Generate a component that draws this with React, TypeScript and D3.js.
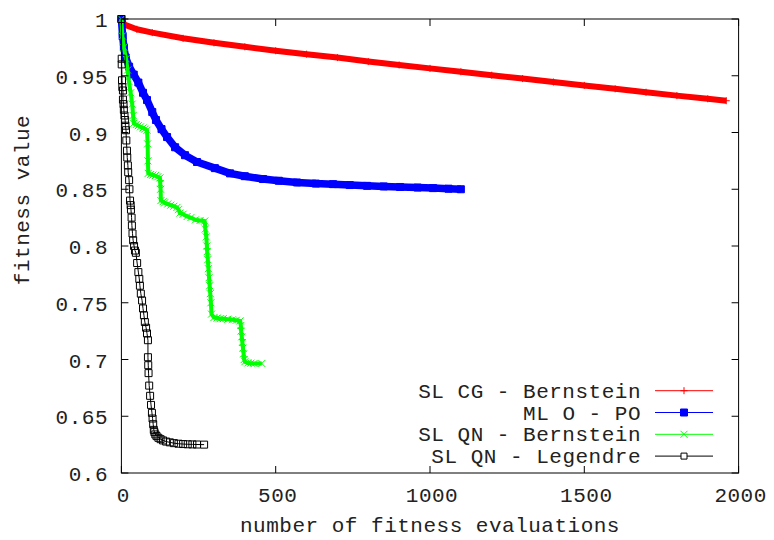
import React from 'react';
import * as d3 from 'd3';

const W = 774;
const H = 540;

const xTicks = [0, 500, 1000, 1500, 2000];
const yTicks = [0.6, 0.65, 0.7, 0.75, 0.8, 0.85, 0.9, 0.95, 1];
const yTickLabels = ['0.6', '0.65', '0.7', '0.75', '0.8', '0.85', '0.9', '0.95', '1'];

const seriesNames = ['SL CG - Bernstein', 'ML O - PO', 'SL QN - Bernstein', 'SL QN - Legendre'];

// SL CG - Bernstein (red)
const redX = [0, 10, 50, 100, 200, 300, 400, 500, 600, 700, 800, 900, 1000, 1100, 1200, 1300, 1400, 1500, 1600, 1700, 1800, 1900, 1960];
const redY = [1, 0.995, 0.991, 0.988, 0.983, 0.979, 0.9755, 0.972, 0.969, 0.966, 0.9625, 0.9595, 0.9565, 0.9535, 0.9505, 0.9475, 0.9445, 0.9415, 0.9385, 0.9355, 0.9325, 0.9297, 0.928];

// ML O - PO (blue)
const blueX = [0, 4, 8, 14, 25, 40, 55, 70, 83, 100, 112, 130, 148, 174, 206, 245, 303, 352, 400, 459, 510, 569, 630, 686, 740, 796, 850, 903, 960, 1010, 1060, 1100];
const blueY = [1, 0.985, 0.975, 0.966, 0.958, 0.951, 0.944, 0.935, 0.9286, 0.918, 0.911, 0.903, 0.896, 0.887, 0.88, 0.874, 0.8686, 0.864, 0.8615, 0.859, 0.8575, 0.856, 0.855, 0.8545, 0.8537, 0.853, 0.8525, 0.852, 0.8515, 0.851, 0.8505, 0.85];

// SL QN - Bernstein (green)
const greenX = [0, 3, 8, 15, 20, 24, 30, 35, 38, 40, 48, 55, 62, 70, 77, 83, 85, 86, 87, 95, 102, 110, 118, 125, 126, 127, 128, 135, 140, 150, 160, 170, 180, 185, 190, 200, 213, 225, 240, 255, 270, 272, 275, 277, 278, 280, 282, 284, 286, 288, 290, 292, 300, 310, 320, 330, 345, 360, 372, 385, 387, 388, 390, 392, 394, 396, 398, 400, 410, 420, 430, 455];
const greenY = [1, 0.985, 0.975, 0.965, 0.955, 0.945, 0.935, 0.925, 0.915, 0.908, 0.907, 0.906, 0.905, 0.904, 0.903, 0.902, 0.89, 0.875, 0.864, 0.863, 0.8625, 0.862, 0.861, 0.86, 0.855, 0.85, 0.84, 0.839, 0.838, 0.837, 0.836, 0.835, 0.834, 0.832, 0.829, 0.828, 0.826, 0.825, 0.823, 0.8225, 0.822, 0.815, 0.808, 0.8, 0.795, 0.788, 0.78, 0.772, 0.765, 0.758, 0.75, 0.74, 0.737, 0.7365, 0.736, 0.736, 0.7355, 0.735, 0.7345, 0.734, 0.73, 0.725, 0.72, 0.715, 0.71, 0.705, 0.7, 0.698, 0.697, 0.6968, 0.6965, 0.6965];

// SL QN - Legendre (black)
const blackX = [0, 1, 1, 2, 3, 5, 5, 7, 8, 10, 12, 13, 15, 16, 18, 19, 21, 22, 25, 26, 28, 30, 31, 33, 34, 36, 38, 41, 44, 47, 51, 55, 58, 60, 63, 67, 70, 73, 76, 80, 83, 86, 86, 87, 88, 90, 93, 96, 99, 101, 103, 105, 107, 110, 114, 120, 127, 135, 145, 157, 170, 185, 200, 215, 230, 245, 268];
const blackY = [1, 0.965, 0.96, 0.946, 0.94, 0.937, 0.929, 0.925, 0.92, 0.915, 0.911, 0.906, 0.902, 0.893, 0.884, 0.878, 0.871, 0.865, 0.858, 0.85, 0.84, 0.836, 0.832, 0.825, 0.818, 0.811, 0.805, 0.8, 0.796, 0.794, 0.785, 0.777, 0.771, 0.765, 0.758, 0.752, 0.745, 0.739, 0.733, 0.728, 0.723, 0.717, 0.702, 0.695, 0.688, 0.677, 0.668, 0.66, 0.653, 0.648, 0.643, 0.638, 0.636, 0.634, 0.6325, 0.631, 0.6298, 0.6287, 0.6277, 0.627, 0.6263, 0.6258, 0.6255, 0.6253, 0.6252, 0.6251, 0.625];

const FONT = '"Liberation Mono", "DejaVu Sans Mono", monospace';
const FS = 21;
const LS = 0.5;

const left = 121.4;
const right = 738.6;
const top = 19;
const bottom = 473;

type Marker = 'plus' | 'fsquare' | 'cross' | 'osquare';

function markerPath(m: Marker, x: number, y: number, s: number): string {
  const h = s / 2;
  if (m === 'plus') return `M${x - h},${y}H${x + h}M${x},${y - h}V${y + h}`;
  if (m === 'cross') return `M${x - h},${y - h}L${x + h},${y + h}M${x - h},${y + h}L${x + h},${y - h}`;
  return `M${x - h},${y - h}H${x + h}V${y + h}H${x - h}Z`;
}

export default function App() {
  const xScale = d3.scaleLinear().domain([0, 2000]).range([left, right]);
  const yScale = d3.scaleLinear().domain([0.6, 1]).range([bottom, top]);

  const series = [
    { name: seriesNames[0], xs: redX, ys: redY, color: '#ff0000', marker: 'plus' as Marker, band: 6 },
    { name: seriesNames[1], xs: blueX, ys: blueY, color: '#0000ff', marker: 'fsquare' as Marker, band: 7.5 },
    { name: seriesNames[2], xs: greenX, ys: greenY, color: '#00ff00', marker: 'cross' as Marker, band: 4 },
    { name: seriesNames[3], xs: blackX, ys: blackY, color: '#000000', marker: 'osquare' as Marker, band: 0 },
  ];

  const line = d3.line<[number, number]>().x(d => xScale(d[0])).y(d => yScale(d[1]));
  const tick = 7;

  const legendTextX = 641;
  const legendY0 = 390.7;
  const legendDy = 21.8;

  return (
    <svg width={W} height={H} style={{ position: 'absolute', left: 0, top: 0, background: '#fff' }} fontFamily={FONT}>
      <rect x={0} y={0} width={W} height={H} fill="#fff" />
      {series.map((s, i) => {
        const pts: [number, number][] = s.xs.map((x, k) => [x, s.ys[k]]);
        const d = line(pts) || '';
        const markers = pts
          .map(p => markerPath(s.marker, xScale(p[0]), yScale(p[1]), 7))
          .join('');
        return (
          <g key={i}>
            {s.band > 0 && (
              <path d={d} fill="none" stroke={s.color} strokeWidth={s.band} strokeLinejoin="round" />
            )}
            <path d={d} fill="none" stroke={s.color} strokeWidth={1} />
            <path
              d={markers}
              fill={s.marker === 'fsquare' ? s.color : 'none'}
              stroke={s.color}
              strokeWidth={1}
            />
          </g>
        );
      })}
      <rect x={left} y={top} width={right - left} height={bottom - top} fill="none" stroke="#000" strokeWidth={1} />
      {xTicks.map((t, i) => (
        <g key={'x' + i}>
          <line x1={xScale(t)} x2={xScale(t)} y1={bottom} y2={bottom - tick} stroke="#000" />
          <line x1={xScale(t)} x2={xScale(t)} y1={top} y2={top + tick} stroke="#000" />
          <text x={xScale(t) + 2} y={502} fontSize={FS} letterSpacing={LS} textAnchor="middle" fill="#222">
            {String(t)}
          </text>
        </g>
      ))}
      {yTicks.map((t, i) => (
        <g key={'y' + i}>
          <line x1={left} x2={left + tick} y1={yScale(t)} y2={yScale(t)} stroke="#000" />
          <line x1={right} x2={right - tick} y1={yScale(t)} y2={yScale(t)} stroke="#000" />
          <text x={108} y={yScale(t) + 8} fontSize={FS} letterSpacing={LS} textAnchor="end" fill="#222">
            {yTickLabels[i]}
          </text>
        </g>
      ))}
      <text x={(left + right) / 2} y={532} fontSize={FS} letterSpacing={LS} textAnchor="middle" fill="#222">
        number of fitness evaluations
      </text>
      <text
        transform={`translate(29,200) rotate(-90)`}
        fontSize={FS}
        letterSpacing={LS}
        textAnchor="middle"
        fill="#222"
      >
        fitness value
      </text>
      {series.map((s, i) => {
        const ly = legendY0 + i * legendDy;
        return (
          <g key={'l' + i}>
            <text x={legendTextX} y={ly + 7} fontSize={FS} letterSpacing={LS} textAnchor="end" fill="#222">
              {s.name}
            </text>
            <line x1={655} x2={713} y1={ly} y2={ly} stroke={s.color} strokeWidth={1} />
            <path
              d={markerPath(s.marker, 684, ly, s.marker === 'osquare' ? 6 : 7)}
              fill={s.marker === 'fsquare' ? s.color : s.marker === 'osquare' ? '#fff' : 'none'}
              stroke={s.color}
              strokeWidth={1}
            />
          </g>
        );
      })}
    </svg>
  );
}
